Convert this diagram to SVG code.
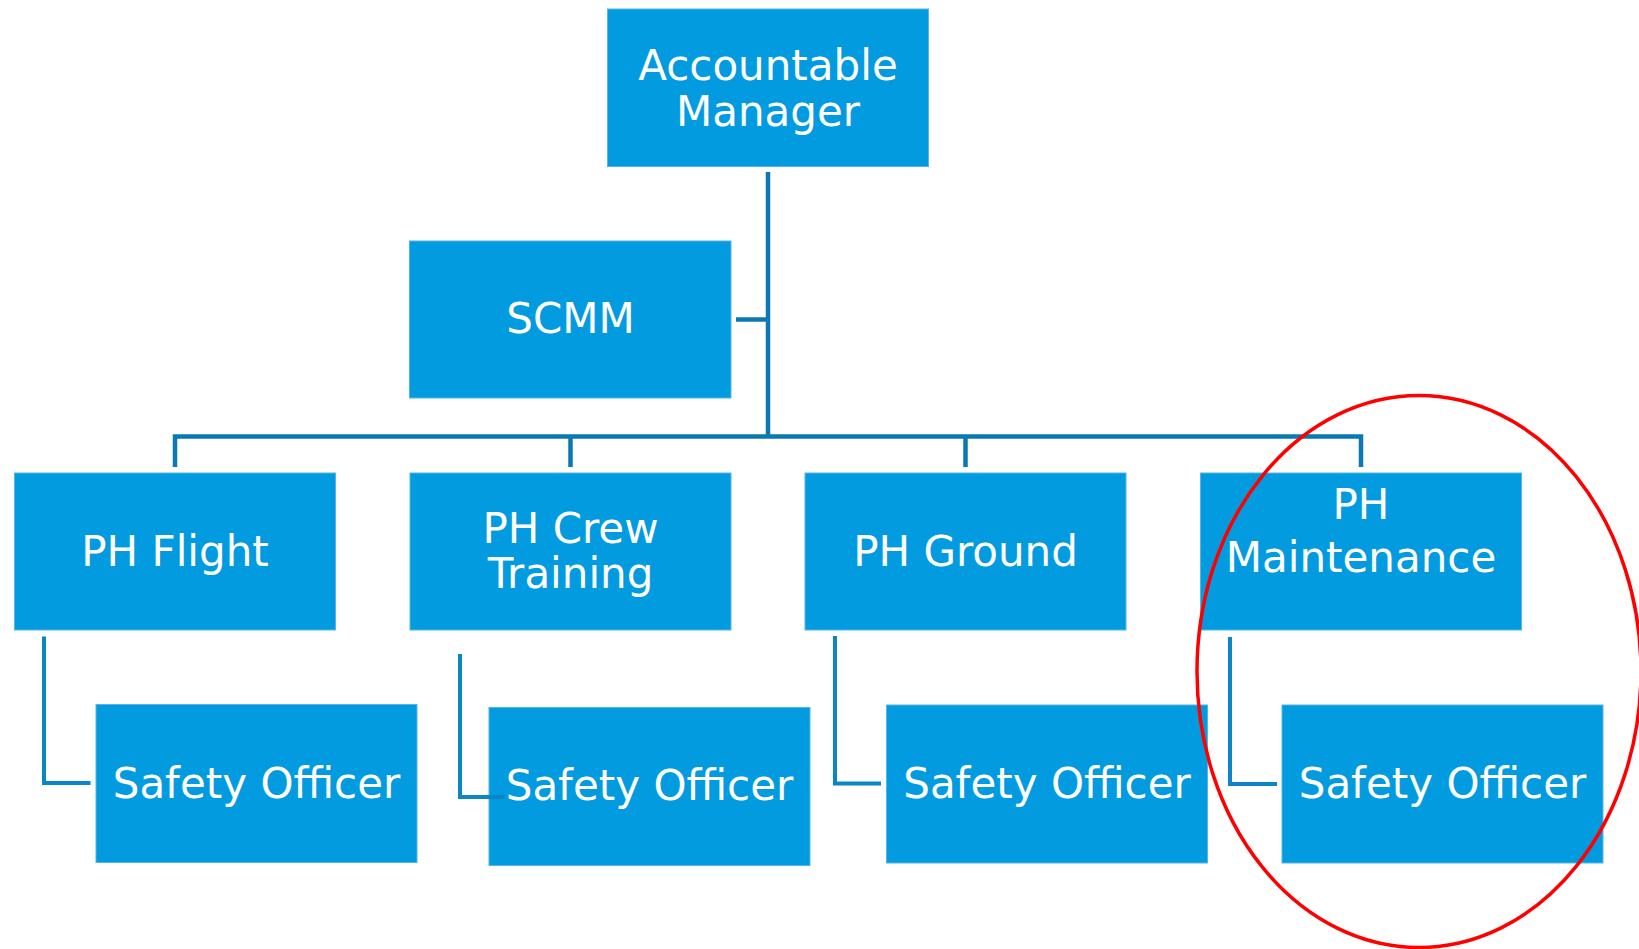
<svg xmlns="http://www.w3.org/2000/svg" width="1639" height="949" viewBox="0 0 1639 949">
  <style>
    .box { fill: #039be0; stroke: #52b6e8; stroke-width: 1; }
    .lbl { fill: #ffffff; font-family: "DejaVu Sans", Verdana, sans-serif; font-size: 42px; text-anchor: middle; }
    .trunk { fill: none; stroke: #0a79b3; stroke-width: 4.5; stroke-linejoin: miter; }
    .elbow { fill: none; stroke: #0a86c6; stroke-width: 4; stroke-linejoin: miter; }
  </style>
  <rect width="1639" height="949" fill="#ffffff"/>

  <!-- org chart boxes -->
  <g id="accountable-manager">
    <rect class="box" x="607.5" y="9" width="321" height="157.5"/>
    <text class="lbl" x="768" y="80">Accountable</text>
    <text class="lbl" x="768" y="126">Manager</text>
  </g>
  <g id="scmm">
    <rect class="box" x="409.5" y="241" width="321.5" height="157"/>
    <text class="lbl" x="570.5" y="333">SCMM</text>
  </g>
  <g id="ph-flight">
    <rect class="box" x="14.5" y="473" width="321" height="157"/>
    <text class="lbl" x="175" y="566">PH Flight</text>
  </g>
  <g id="ph-crew-training">
    <rect class="box" x="410" y="473" width="321" height="157"/>
    <text class="lbl" x="570.5" y="542.5">PH Crew</text>
    <text class="lbl" x="570.5" y="588">Training</text>
  </g>
  <g id="ph-ground">
    <rect class="box" x="805" y="473" width="321" height="157"/>
    <text class="lbl" x="965.5" y="566">PH Ground</text>
  </g>
  <g id="ph-maintenance">
    <rect class="box" x="1200.5" y="473" width="321" height="157"/>
    <text class="lbl" x="1361" y="518.5">PH</text>
    <text class="lbl" x="1361" y="571.5">Maintenance</text>
  </g>
  <g id="safety-officer-flight">
    <rect class="box" x="96" y="704.5" width="321" height="158"/>
    <text class="lbl" x="256.5" y="797.5">Safety Officer</text>
  </g>
  <g id="safety-officer-crew">
    <rect class="box" x="489" y="707.5" width="321" height="158"/>
    <text class="lbl" x="649.5" y="800">Safety Officer</text>
  </g>
  <g id="safety-officer-ground">
    <rect class="box" x="886.5" y="705" width="321" height="158"/>
    <text class="lbl" x="1047" y="797.5">Safety Officer</text>
  </g>
  <g id="safety-officer-maintenance">
    <rect class="box" x="1282" y="705" width="321" height="158"/>
    <text class="lbl" x="1442.5" y="797.5">Safety Officer</text>
  </g>

  <!-- reporting lines -->
  <g id="connectors">
    <path class="trunk" d="M768 172 V436.5"/>
    <path class="trunk" d="M736 319.5 H768"/>
    <path class="trunk" d="M175 467 V436.5 H1361 V467"/>
    <path class="trunk" d="M570.5 436.5 V467"/>
    <path class="trunk" d="M965.5 436.5 V467"/>
    <path class="elbow" d="M44 636.5 V783 H90.5"/>
    <path class="elbow" d="M460 654 V797 H505"/>
    <path class="elbow" d="M835 636 V783.5 H881"/>
    <path class="elbow" d="M1230 637 V784 H1277"/>
  </g>

  <!-- highlight ring -->
  <g id="highlight">
    <ellipse cx="1419" cy="671.5" rx="222" ry="276" fill="none" stroke="#ff0000" stroke-width="3.5"/>
  </g>
</svg>
